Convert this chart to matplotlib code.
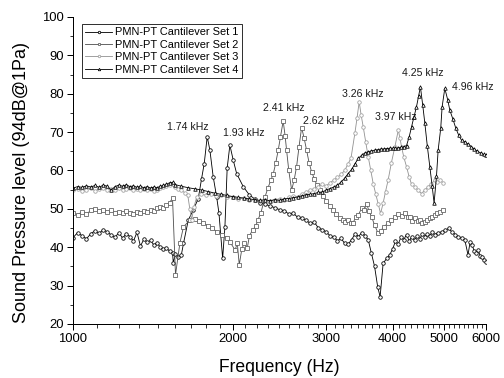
import matplotlib
matplotlib.use("Agg")
import matplotlib.pyplot as plt
from matplotlib.ticker import FixedLocator, NullFormatter

plt.rcParams['font.family'] = ['Liberation Sans', 'DejaVu Sans']

# Set 1: black circles
set1_freq = [1000, 1020, 1040, 1060, 1080, 1100, 1120, 1140, 1160, 1180, 1200, 1220, 1240, 1260,
             1280, 1300, 1320, 1340, 1360, 1380, 1400, 1420, 1440, 1460, 1480, 1500, 1520, 1540,
             1545, 1560, 1580, 1600, 1615, 1649, 1685, 1722, 1747, 1767, 1790, 1811, 1837, 1865,
             1884, 1914, 1933, 1952, 1975, 2004, 2034, 2093, 2150, 2200, 2250, 2300, 2350, 2400,
             2450, 2500, 2550, 2600, 2650, 2700, 2750, 2800, 2850, 2900, 2950, 3000, 3050, 3100,
             3150, 3200, 3250, 3300, 3350, 3400, 3450, 3500, 3550, 3600, 3650, 3700, 3750, 3790,
             3840, 3900, 3950, 4000, 4050, 4100, 4150, 4200, 4250, 4300, 4350, 4400, 4450, 4500,
             4550, 4600, 4650, 4700, 4750, 4800, 4875, 4950, 5025, 5100, 5175, 5250, 5325, 5400,
             5475, 5550, 5600, 5650, 5700, 5750, 5800, 5850, 5900, 5950, 6000]
set1_spl = [42.5, 43.8, 43.0, 42.2, 43.5, 44.3, 43.6, 44.6, 44.0, 43.2, 42.6, 43.8, 42.4, 43.5,
            42.8, 41.6, 43.9, 40.3, 42.1, 41.3, 41.8, 40.6, 41.2, 40.0, 39.6, 39.8, 39.0, 38.6,
            36.0, 38.2, 37.5, 38.0, 41.0, 47.1, 49.7, 52.7, 57.9, 61.8, 68.8, 65.3, 58.4, 53.1,
            48.8, 37.1, 45.3, 60.6, 66.6, 62.7, 59.2, 55.8, 53.6, 52.6, 51.6, 51.2, 50.8, 50.3,
            49.8, 49.5, 48.7, 48.9, 47.8, 47.5, 47.0, 46.2, 46.5, 45.0, 44.6, 44.0, 43.0, 42.6,
            41.7, 42.3, 41.0, 40.8, 42.0, 43.5, 42.8, 43.8, 43.0, 41.9, 38.4, 35.0, 29.7, 27.1,
            35.8, 37.1, 38.0, 39.5, 41.5, 40.8, 42.7, 42.0, 43.3, 41.6, 42.8, 41.8, 43.0, 42.2,
            43.4, 42.8, 43.5, 43.0, 43.9, 43.3, 43.8, 44.0, 44.4, 44.9, 44.0, 43.3, 42.7, 42.3,
            41.8, 38.0, 41.4, 40.6, 39.0, 38.5, 39.2, 37.8, 37.5, 36.6, 36.2]

# Set 2: gray squares
set2_freq = [1000, 1020, 1040, 1060, 1080, 1100, 1120, 1140, 1160, 1180, 1200, 1220, 1240, 1260,
             1280, 1300, 1320, 1340, 1360, 1380, 1400, 1420, 1440, 1460, 1480, 1500, 1520, 1540,
             1560, 1590, 1615, 1660, 1700, 1730, 1760, 1800, 1830, 1870, 1910, 1950, 1975, 2020,
             2040, 2057, 2080, 2100, 2130, 2150, 2180, 2210, 2230, 2260, 2300, 2330, 2360, 2385,
             2410, 2436, 2460, 2489, 2510, 2526, 2550, 2582, 2610, 2638, 2665, 2696, 2725, 2755,
             2785, 2815, 2850, 2880, 2919, 2960, 3000, 3048, 3090, 3130, 3183, 3223, 3260, 3300,
             3340, 3368, 3410, 3450, 3497, 3535, 3573, 3610, 3653, 3700, 3758, 3800, 3850, 3924,
             3980, 4040, 4101, 4160, 4220, 4270, 4312, 4360, 4410, 4460, 4502, 4550, 4602, 4650,
             4700, 4750, 4805, 4860, 4920, 4982]
set2_spl = [48.8, 48.5, 49.2, 48.6, 49.6, 49.9, 49.4, 49.8, 49.3, 49.6, 49.0, 49.2, 48.9, 49.4,
            49.0, 48.7, 49.3, 48.8, 49.5, 49.1, 49.8, 49.4, 50.1, 50.5, 50.2, 51.0, 51.6, 52.8,
            32.8, 41.1, 45.3, 47.1, 47.3, 46.8, 46.2, 45.6, 44.9, 44.0, 43.2, 42.5, 41.4, 39.3,
            41.0, 35.4, 39.5, 41.0, 39.8, 43.0, 44.5, 45.5, 47.1, 49.0, 53.1, 55.5, 57.5, 59.2,
            62.0, 65.3, 68.8, 72.9, 69.0, 65.3, 60.0, 54.9, 57.5, 61.0, 66.0, 71.2, 68.5, 65.3,
            62.0, 59.7, 57.8, 56.2, 54.9, 53.3, 52.0, 50.8, 49.8, 48.6, 47.5, 47.1, 46.5, 47.0,
            46.2, 46.3, 47.8, 48.5, 50.1, 49.6, 51.4, 49.5, 47.9, 45.8, 43.6, 44.2, 45.4, 46.2,
            47.0, 47.8, 48.6, 48.2, 48.8, 47.9, 47.9, 46.9, 47.5, 46.8, 47.1, 46.3, 46.6, 47.0,
            47.6, 47.9, 48.4, 48.8, 49.2, 49.7]

# Set 3: light gray circles
set3_freq = [1000, 1020, 1040, 1060, 1080, 1100, 1120, 1140, 1160, 1180, 1200, 1220, 1240, 1260,
             1280, 1300, 1320, 1340, 1360, 1380, 1400, 1420, 1440, 1460, 1480, 1500, 1520, 1540,
             1560, 1580, 1600, 1625, 1645, 1660, 1673, 1690, 1710, 1740, 1780, 1820, 1860, 1900,
             1950, 2000, 2050, 2100, 2150, 2200, 2250, 2300, 2350, 2400, 2450, 2500, 2550, 2600,
             2650, 2700, 2750, 2800, 2850, 2900, 2950, 3000, 3050, 3100, 3150, 3200, 3250, 3300,
             3340, 3397, 3430, 3461, 3490, 3522, 3560, 3599, 3640, 3678, 3720, 3760, 3798, 3840,
             3880, 3924, 3980, 4041, 4101, 4130, 4159, 4200, 4250, 4300, 4344, 4406, 4470, 4536,
             4600, 4668, 4735, 4805, 4860, 4920, 4982]
set3_spl = [54.8, 55.2, 54.6, 55.0, 55.4, 54.7, 55.1, 55.5, 54.9, 55.3, 55.0, 55.4, 54.8, 55.2,
            55.5, 55.0, 55.3, 54.9, 55.2, 54.8, 55.1, 54.7, 55.0, 55.4, 55.6, 55.9, 56.3, 56.5,
            55.8, 55.3, 54.8, 54.2, 53.6, 50.0, 47.1, 50.5, 53.0, 53.8, 53.6, 53.9, 53.3, 53.5,
            53.0, 53.2, 52.6, 52.8, 52.2, 52.4, 52.0, 52.3, 52.0, 52.4, 52.6, 52.3, 53.0, 53.4,
            53.2, 53.9, 54.4, 54.9, 55.3, 55.8, 56.4, 56.0, 56.8, 57.5, 58.2, 59.0, 60.0, 61.8,
            63.2, 69.7, 73.8, 77.9, 74.5, 71.4, 67.5, 63.6, 60.0, 56.6, 53.8, 51.2, 48.8, 51.5,
            54.5, 57.5, 62.0, 66.2, 70.5, 68.5, 66.2, 63.5, 61.0, 58.3, 56.4, 55.8, 54.8, 54.0,
            54.9, 55.8, 56.5, 57.5, 57.0, 57.4, 56.8]

# Set 4: black triangles
set4_freq = [1000, 1020, 1040, 1060, 1080, 1100, 1120, 1140, 1160, 1180, 1200, 1220, 1240, 1260,
             1280, 1300, 1320, 1340, 1360, 1380, 1400, 1420, 1440, 1460, 1480, 1500, 1520, 1540,
             1560, 1600, 1650, 1700, 1750, 1800, 1850, 1900, 1950, 2000, 2050, 2100, 2150, 2200,
             2250, 2300, 2350, 2400, 2450, 2500, 2550, 2600, 2650, 2700, 2750, 2800, 2850, 2900,
             2950, 3000, 3050, 3100, 3150, 3200, 3250, 3300, 3350, 3400, 3450, 3500, 3550, 3600,
             3650, 3700, 3750, 3800, 3850, 3900, 3950, 4000, 4050, 4100, 4150, 4200, 4250, 4300,
             4344, 4390, 4438, 4480, 4514, 4560, 4602, 4650, 4702, 4750, 4790, 4840, 4875, 4930,
             4960, 5018, 5080, 5129, 5200, 5264, 5330, 5395, 5480, 5560, 5633, 5700, 5780, 5860,
             5940, 6000]
set4_spl = [55.4, 55.8, 55.6, 56.0, 55.7, 56.1, 55.6, 56.2, 55.9, 54.9, 55.8, 56.2, 55.9, 56.3,
            55.8, 56.0, 55.6, 55.9, 55.5, 55.8, 55.4, 55.7, 55.5, 55.9, 56.1, 56.4, 56.8, 56.9,
            56.3, 55.9, 55.5, 55.2, 54.9, 54.5, 54.1, 53.8, 53.5, 53.2, 53.0, 52.8, 52.6, 52.4,
            52.2, 52.4, 52.1, 52.4, 52.2, 52.6, 52.7, 52.9, 53.1, 53.4, 53.7, 53.8, 54.0, 54.3,
            54.4, 54.9, 55.3, 55.7, 56.2, 57.0, 58.0, 59.2, 60.3, 61.8, 63.2, 64.0, 64.6, 64.9,
            65.1, 65.3, 65.4, 65.6, 65.6, 65.7, 65.8, 65.8, 65.8, 65.9, 66.0, 66.2, 66.5, 68.8,
            71.4, 74.0, 76.6, 79.5, 81.8, 77.0, 72.3, 66.5, 61.0, 56.0, 51.5, 58.5, 65.3, 71.0,
            76.6, 81.4, 78.5, 75.7, 73.3, 71.0, 69.2, 67.9, 67.4, 66.8, 66.2, 65.6, 65.0, 64.6,
            64.2, 64.0]

peak_labels = ["1.74 kHz", "1.93 kHz", "2.41 kHz", "2.62 kHz",
               "3.26 kHz", "3.97 kHz", "4.25 kHz", "4.96 kHz"]
label_freq = [1643, 2099, 2497, 2963, 3517, 4058, 4561, 5667]
label_spl = [71.3, 69.9, 76.3, 72.9, 79.9, 73.9, 85.5, 81.7]

fig = plt.figure(figsize=(7.0, 5.25), dpi=72)
ax = fig.add_axes([73 / 504, 54 / 378, 413 / 504, 307 / 378])

style = dict(lw=0.85, ms=3.5, mew=0.8, mfc='white')
ax.plot(set1_freq, set1_spl, '-o', color='black', mec='black',
        label='PMN-PT Cantilever Set 1', **style)
ax.plot(set2_freq, set2_spl, '-s', color='#505050', mec='#606060',
        label='PMN-PT Cantilever Set 2', **style)
ax.plot(set3_freq, set3_spl, '-o', color='#939393', mec='#a0a0a0',
        label='PMN-PT Cantilever Set 3', **style)
ax.plot(set4_freq, set4_spl, '-^', color='black', mec='black',
        label='PMN-PT Cantilever Set 4', **style)

for txt, fx, fy in zip(peak_labels, label_freq, label_spl):
    ax.text(fx, fy, txt, ha='center', va='center', fontsize=10.5, color='#1a1a1a')

ax.set_xscale('log')
ax.set_xlim(1000, 6000)
ax.set_ylim(20, 100)

major = [1000, 2000, 3000, 4000, 5000, 6000]
minor = [i * 1000 + k * 1000 / 9 for i in range(1, 6) for k in range(1, 9)]
ax.xaxis.set_major_locator(FixedLocator(major))
ax.xaxis.set_minor_locator(FixedLocator(minor))
ax.xaxis.set_minor_formatter(NullFormatter())
ax.set_xticklabels([str(m) for m in major])
ax.set_yticks(range(20, 101, 10))
ax.set_yticks(range(25, 100, 10), minor=True)

ax.spines['top'].set_visible(False)
ax.spines['right'].set_visible(False)
for s in ['left', 'bottom']:
    ax.spines[s].set_linewidth(1.0)
ax.tick_params(which='major', direction='out', length=6, width=1.0, labelsize=13, pad=3)
ax.tick_params(which='minor', direction='out', length=3.5, width=0.8)

ax.set_xlabel('Frequency (Hz)', fontsize=17.5, labelpad=14)
ax.set_ylabel('Sound Pressure level (94dB@1Pa)', fontsize=18)
ax.yaxis.set_label_coords(-0.104, 0.46)

leg = ax.legend(loc='upper left', bbox_to_anchor=(0.022, 0.977), borderaxespad=0,
                fontsize=11, handlelength=2.4, handletextpad=0.3, borderpad=0.3,
                labelspacing=0.22, numpoints=1, fancybox=False, framealpha=1,
                markerscale=0.7)
leg.get_frame().set_edgecolor('black')
leg.get_frame().set_linewidth(0.8)

fig.savefig('out.png', dpi=72)
